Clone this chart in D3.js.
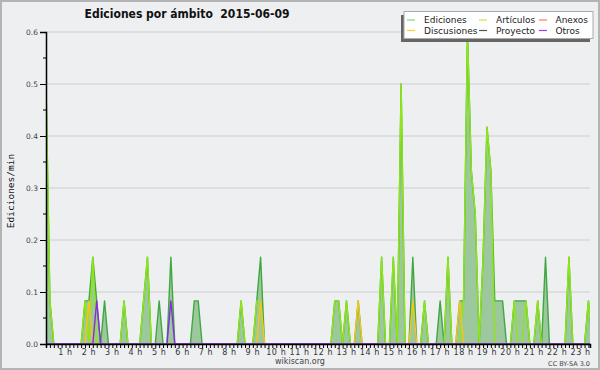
<!DOCTYPE html>
<html>
<head>
<meta charset="utf-8">
<script src="https://cdn.jsdelivr.net/npm/d3@7"></script>
<style>
	body { margin: 0; background: #ffffff; }
	svg { display: block; }
</style>
</head>
<body>
<div id="edits_by_namespace"></div>
<script>

// data: edits per minute, one value per 10-minute slot (slot 0 = 00:00)
const slotMinutes = d3.range(0, 1440, 10);

const ediciones = [
	0.333, 0.5, 0.083, 0, 0, 0, 0, 0, 0, 0, 0, 0.083,
	0.083, 0.167, 0.083, 0, 0.083, 0, 0, 0, 0, 0.083, 0, 0,
	0, 0, 0.083, 0.167, 0, 0, 0.083, 0, 0, 0.167, 0, 0,
	0, 0, 0, 0.083, 0.083, 0, 0, 0, 0, 0, 0, 0,
	0, 0, 0, 0.083, 0, 0, 0, 0.083, 0.167, 0, 0, 0,
	0, 0, 0, 0, 0, 0, 0, 0, 0, 0, 0, 0,
	0, 0, 0, 0.083, 0.083, 0, 0.083, 0, 0, 0.083, 0, 0,
	0, 0, 0, 0.167, 0, 0, 0.167, 0, 0.5, 0, 0, 0.167,
	0, 0, 0.083, 0, 0, 0, 0.083, 0, 0.167, 0, 0, 0.083,
	0.083, 0.6, 0.333, 0.25, 0, 0.167, 0.417, 0.333, 0.083, 0.083, 0.083, 0,
	0, 0.083, 0.083, 0.083, 0.083, 0, 0, 0.083, 0, 0.167, 0, 0,
	0, 0, 0, 0.167, 0, 0, 0, 0, 0.083, 0, 0, 0
];

const articulos = [
	0.333, 0.5, 0.083, 0, 0, 0, 0, 0, 0, 0, 0, 0.083,
	0, 0.167, 0, 0, 0, 0, 0, 0, 0, 0.083, 0, 0,
	0, 0, 0.083, 0.167, 0, 0, 0, 0, 0, 0, 0, 0,
	0, 0, 0, 0, 0, 0, 0, 0, 0, 0, 0, 0,
	0, 0, 0, 0.083, 0, 0, 0, 0.083, 0.083, 0, 0, 0,
	0, 0, 0, 0, 0, 0, 0, 0, 0, 0, 0, 0,
	0, 0, 0, 0.083, 0.083, 0, 0.083, 0, 0, 0, 0, 0,
	0, 0, 0, 0.167, 0, 0, 0.167, 0, 0.5, 0, 0, 0,
	0, 0, 0.083, 0, 0, 0, 0, 0, 0.167, 0, 0, 0,
	0.083, 0.6, 0.333, 0.25, 0, 0.167, 0.417, 0.333, 0, 0, 0, 0,
	0, 0.083, 0, 0, 0.083, 0, 0, 0.083, 0, 0, 0, 0,
	0, 0, 0, 0.167, 0, 0, 0, 0, 0.083, 0, 0, 0
];

// smaller namespaces, only the non-empty slots: [minute, edits/min]
const discusionesPoints = [[120, 0.083], [560, 0.083], [810, 0.083], [950, 0.083], [1070, 0.083]];
const otrosPoints = [[140, 0.083], [330, 0.083]];
const anexosPoints = [];
const proyectoPoints = [];

// axis labels
const hourValues = [1, 2, 3, 4, 5, 6, 7, 8, 9, 10, 11, 12, 13, 14, 15, 16, 17, 18, 19, 20, 21, 22, 23];
const hourLabels = ["1 h", "2 h", "3 h", "4 h", "5 h", "6 h", "7 h", "8 h", "9 h", "10 h", "11 h", "12 h",
	"13 h", "14 h", "15 h", "16 h", "17 h", "18 h", "19 h", "20 h", "21 h", "22 h", "23 h"];
const yTickValues = [0, 0.1, 0.2, 0.3, 0.4, 0.5, 0.6];
const yTickLabels = ["0.0", "0.1", "0.2", "0.3", "0.4", "0.5", "0.6"];

// legend entries (row by row, three columns)
const legendNames = ["Ediciones", "Artículos", "Anexos", "Discusiones", "Proyecto", "Otros"];
const legendColors = ["#86cf86", "#c4ec3c", "#ff7a50", "#ffcc33", "#555555", "#9040f0"];

// full series from the sparse lists (0 where nothing was edited)
function fillSlots(points) {
	const byMinute = new Map(points);
	return slotMinutes.map(m => byMinute.has(m) ? byMinute.get(m) : 0);
}
const discusiones = fillSlots(discusionesPoints);
const otros = fillSlots(otrosPoints);
const anexos = fillSlots(anexosPoints);
const proyecto = fillSlots(proyectoPoints);

// sizes
const w = 600, h = 370;
const plot = {left: 46, right: 590, top: 32, bottom: 344};
const bg = "#eeeff1";
const font = "'DejaVu Sans', sans-serif";

// scales
const x = d3.scaleLinear().domain([10, 1404]).range([plot.left, plot.right]);
const y = d3.scaleLinear().domain([0, 0.6]).range([plot.bottom, plot.top]);

const svg = d3.select("#edits_by_namespace")
	.append("svg")
	.attr("width", w)
	.attr("height", h);

// background and frame
svg.append("rect")
	.attr("x", 1).attr("y", 1)
	.attr("width", w - 2).attr("height", h - 2)
	.attr("fill", bg)
	.attr("stroke", "#b4b4b4")
	.attr("stroke-width", 2);

// horizontal grid
svg.append("g")
	.selectAll("line")
	.data(yTickValues.slice(1))
	.join("line")
		.attr("x1", plot.left).attr("x2", plot.right)
		.attr("y1", d => y(d)).attr("y2", d => y(d))
		.attr("stroke", "#cdcdcd")
		.attr("stroke-width", 1);

svg.append("clipPath")
	.attr("id", "plotClip")
	.append("rect")
		.attr("x", plot.left).attr("y", plot.top - 2)
		.attr("width", plot.right - plot.left).attr("height", plot.bottom - plot.top + 2);

const chart = svg.append("g").attr("clip-path", "url(#plotClip)");

const area = d3.area()
	.x((d, i) => x(slotMinutes[i]))
	.y0(y(0))
	.y1(d => y(d));

const line = d3.line()
	.x((d, i) => x(slotMinutes[i]))
	.y(d => y(d));

// total edits: filled area
chart.append("path")
	.datum(ediciones)
	.attr("d", area)
	.attr("fill", "#9dc89d");

// one line per namespace, total first so the others sit on top
const lines = [
	[ediciones, "#40a840"],
	[articulos, "#8ee614"],
	[anexos, "#ff7a50"],
	[discusiones, "#f5c518"],
	[proyecto, "#555555"],
	[otros, "#8a2be2"]
];

chart.append("g")
	.selectAll("path")
	.data(lines)
	.join("path")
		.attr("d", d => line(d[0]))
		.attr("fill", "none")
		.attr("stroke", d => d[1])
		.attr("stroke-width", 1.4)
		.attr("stroke-linejoin", "round");

// x axis: a tick every 10 minutes, hour labels
const axisX = svg.append("g")
	.attr("transform", `translate(0,${plot.bottom})`)
	.call(d3.axisBottom(x)
		.tickValues(d3.range(10, 1404, 10))
		.tickSize(4)
		.tickFormat(""));
axisX.select(".domain").attr("stroke", "#000").attr("stroke-width", 1.5);
axisX.selectAll(".tick line").attr("stroke", "#000");

svg.append("g")
	.selectAll("text")
	.data(hourValues)
	.join("text")
		.attr("x", d => x(d * 60))
		.attr("y", plot.bottom + 11)
		.attr("text-anchor", "middle")
		.style("font-family", font)
		.style("font-size", "8px")
		.style("letter-spacing", "0.6px")
		.style("fill", "#333")
		.text((d, i) => hourLabels[i]);

// y axis with minor ticks
const axisY = svg.append("g")
	.attr("transform", `translate(${plot.left},0)`)
	.call(d3.axisLeft(y)
		.tickValues(yTickValues)
		.tickSize(6)
		.tickPadding(2)
		.tickFormat((d, i) => yTickLabels[i]));
axisY.select(".domain").attr("stroke", "#000").attr("stroke-width", 1.5);
axisY.selectAll(".tick line").attr("stroke", "#000");
axisY.selectAll(".tick text")
	.style("font-family", font)
	.style("font-size", "7.5px")
	.style("fill", "#444");

svg.append("g")
	.selectAll("line")
	.data([0.05, 0.15, 0.25, 0.35, 0.45, 0.55])
	.join("line")
		.attr("x1", plot.left - 3).attr("x2", plot.left)
		.attr("y1", d => y(d)).attr("y2", d => y(d))
		.attr("stroke", "#000");

// y axis title
svg.append("text")
	.attr("transform", "rotate(-90)")
	.attr("x", -191)
	.attr("y", 14)
	.attr("text-anchor", "middle")
	.style("font-family", "'DejaVu Sans Mono', monospace")
	.style("font-size", "9.5px")
	.style("fill", "#111")
	.text("Ediciones/min");

// title
svg.append("text")
	.attr("x", 187)
	.attr("y", 18)
	.attr("text-anchor", "middle")
	.style("font-family", "'DejaVu Sans Condensed', 'DejaVu Sans', sans-serif")
	.style("font-stretch", "condensed")
	.style("font-weight", "bold")
	.style("font-size", "12px")
	.style("fill", "#111")
	.attr("xml:space", "preserve")
	.text("Ediciones por ámbito  2015-06-09");

// credits
svg.append("text")
	.attr("x", 300)
	.attr("y", 364)
	.attr("text-anchor", "middle")
	.style("font-family", font)
	.style("font-size", "8px")
	.style("fill", "#444")
	.text("wikiscan.org");

svg.append("text")
	.attr("x", 590)
	.attr("y", 366)
	.attr("text-anchor", "end")
	.style("font-family", font)
	.style("font-size", "6.5px")
	.style("fill", "#444")
	.text("CC BY-SA 3.0");

// legend with shadow
const legend = svg.append("g");
legend.append("rect")
	.attr("x", 401).attr("y", 15)
	.attr("width", 189).attr("height", 27)
	.attr("fill", "#666");
legend.append("rect")
	.attr("x", 404).attr("y", 11.5)
	.attr("width", 189).attr("height", 27)
	.attr("fill", "#fff")
	.attr("stroke", "#aaa");

const colX = [407, 479, 539];
const textX = [424, 496, 555.5];
const rowY = [20, 30.5];

const items = legend.selectAll("g.item")
	.data(legendNames)
	.join("g")
		.attr("class", "item");

items.append("line")
	.attr("x1", (d, i) => colX[i % 3])
	.attr("x2", (d, i) => colX[i % 3] + 8)
	.attr("y1", (d, i) => rowY[Math.floor(i / 3)])
	.attr("y2", (d, i) => rowY[Math.floor(i / 3)])
	.attr("stroke", (d, i) => legendColors[i])
	.attr("stroke-width", 1.2);

items.append("text")
	.attr("x", (d, i) => textX[i % 3])
	.attr("y", (d, i) => rowY[Math.floor(i / 3)] + 3)
	.style("font-family", font)
	.style("font-size", "9px")
	.style("fill", "#222")
	.text(d => d);

</script>
</body>
</html>
